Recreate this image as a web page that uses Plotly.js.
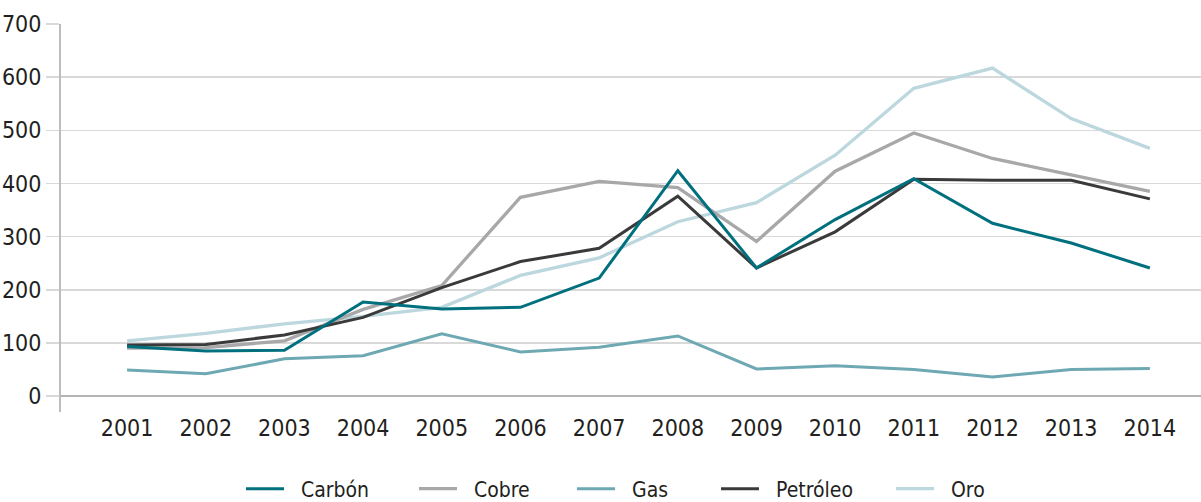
<!DOCTYPE html>
<html>
<head>
<meta charset="utf-8">
<script src="https://cdn.plot.ly/plotly-3.0.1.min.js"></script>
<style>html,body{margin:0;padding:0;background:#fff;}#chart{width:1201px;height:502px;}</style>
</head>
<body>
<div id="chart"></div>
<script>
const years = ['2001','2002','2003','2004','2005','2006','2007','2008','2009','2010','2011','2012','2013','2014'];
const carbon   = [93, 85, 86, 177, 164, 167, 222, 424, 241, 332, 409, 325, 288, 241];
const cobre    = [90, 91, 104, 163, 208, 374, 404, 392, 291, 423, 495, 447, 416, 385];
const gas      = [49, 42, 70, 76, 117, 83, 92, 113, 51, 57, 50, 36, 50, 52];
const petroleo = [96, 97, 115, 148, 204, 253, 278, 376, 241, 309, 408, 406, 406, 371];
const oro      = [104, 118, 136, 150, 167, 227, 260, 328, 364, 453, 579, 617, 522, 466];

const seriesNames = ['Carbón','Cobre','Gas','Petróleo','Oro'];
const seriesData = [carbon, cobre, gas, petroleo, oro];
const colors = ['#00707e','#a8a8aa','#6ea8b3','#3a3a3a','#bcd7dd'];
const widths = [3, 3.3, 3, 3, 3.3];
const legendX = [247, 420, 578, 722, 897];
const drawOrder = [2, 4, 1, 3, 0];

const FONT = 'Liberation Sans Narrow, DejaVu Sans Condensed, Roboto, sans-serif';
const W = 1201, H = 502;
const PAD = '\u00A0\u00A0';

const traces = drawOrder.map(i => ({
  type: 'scatter', mode: 'lines', x: years, y: seriesData[i], name: PAD + seriesNames[i],
  line: {color: colors[i], width: widths[i]},
  legend: i === 0 ? 'legend' : 'legend' + (i + 1),
  hoverinfo: 'skip'
}));

const layout = {
  width: W, height: H,
  margin: {l: 61, r: 0, t: 24, b: 90},
  paper_bgcolor: '#fff', plot_bgcolor: '#fff',
  font: {family: FONT, size: 23, color: '#231f20'},
  xaxis: {
    type: 'category', range: [-0.84, 13.65], showgrid: false, showline: false,
    zeroline: false, ticks: '', tickfont: {family: FONT, size: 23, color: '#231f20'}, fixedrange: true
  },
  yaxis: {
    range: [-30, 700], tickvals: [0,100,200,300,400,500,600,700],
    showgrid: true, gridcolor: '#d9d9d9', gridwidth: 1.5,
    zeroline: true, zerolinecolor: '#b5b5b5', zerolinewidth: 1.5,
    showline: true, linecolor: '#bdbdbd', linewidth: 2,
    ticks: 'outside', ticklen: 13, tickcolor: '#d9d9d9', tickwidth: 1.5,
    tickfont: {family: FONT, size: 23, color: '#231f20'}, fixedrange: true
  },
  showlegend: true
};
seriesNames.forEach((n, i) => {
  const key = i === 0 ? 'legend' : 'legend' + (i + 1);
  layout[key] = {
    xref: 'container', yref: 'container',
    x: (legendX[i] - 6) / W, xanchor: 'left',
    y: 1 - 489 / H, yanchor: 'middle',
    orientation: 'h', bgcolor: 'rgba(0,0,0,0)', borderwidth: 0,
    font: {family: FONT, size: 21, color: '#231f20'}, itemwidth: 38
  };
});

Plotly.newPlot('chart', traces, layout, {staticPlot: true, displayModeBar: false});
</script>
</body>
</html>
